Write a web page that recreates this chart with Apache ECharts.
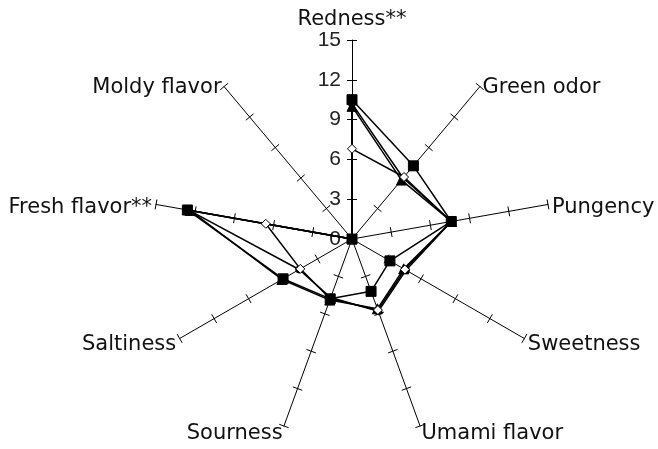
<!DOCTYPE html>
<html>
<head>
<meta charset="utf-8">
<script src="https://cdn.jsdelivr.net/npm/echarts@6/dist/echarts.min.js"></script>
<style>
  html, body { margin: 0; padding: 0; background: #fff; }
  #chart { width: 658px; height: 449px; }
</style>
</head>
<body>
<div id="chart"></div>
<script>
// Sensory attributes, listed clockwise from the top spoke
const attributes = ['Redness**', 'Green odor', 'Pungency', 'Sweetness', 'Umami flavor',
                    'Sourness', 'Saltiness', 'Fresh flavor**', 'Moldy flavor'];
const scaleTicks = [0, 3, 6, 9, 12, 15];

// Mean intensity scores per sample (same attribute order)
const sampleSquare   = [10.5, 7.2, 7.6, 3.3, 4.2, 4.8, 6.0, 12.6, 0];
const sampleTriangle = [10.0, 5.8, 7.6, 4.5, 5.6, 4.9, 6.1, 12.4, 0];
const sampleCircle   = [10.2, 6.0, 7.6, 4.7, 5.8, 4.7, 4.6, 12.5, 0];
const sampleDiamond  = [6.8, 6.1, 7.6, 4.6, 5.7, 4.8, 4.5, 6.6, 0];

// ECharts lays radar spokes out counter-clockwise, so reverse after the first one
const order = [0].concat(attributes.map((_, i) => i).slice(1).reverse());
const reorder = arr => order.map(i => arr[i]);

const scaleMin = scaleTicks[0];
const scaleMax = scaleTicks[scaleTicks.length - 1];

const indicators = order.map((i, k) => {
  const ind = { name: attributes[i], min: scaleMin, max: scaleMax };
  if (k === 0) ind.axisLabel = { show: true };
  return ind;
});
const bareIndicators = order.map(() => ({ name: '', min: scaleMin, max: scaleMax }));

const center = [352, 239];
const radius = 199;
const ink = '#000';

const chart = echarts.init(document.getElementById('chart'), null, { renderer: 'canvas' });

const lineOf = (data, symbol, size, fill) => ({
  value: reorder(data),
  symbol: symbol,
  symbolSize: size,
  lineStyle: { color: ink, width: 1.5 },
  itemStyle: { color: fill, borderColor: ink, borderWidth: 1 }
});

chart.setOption({
  backgroundColor: '#fff',
  animation: false,
  radar: [
    {
      center: center,
      radius: radius,
      startAngle: 90,
      splitNumber: scaleTicks.length - 1,
      shape: 'polygon',
      indicator: indicators,
      axisName: {
        color: '#111',
        fontFamily: 'DejaVu Sans',
        fontSize: 21,
        // top name sits on the spoke end, side names drop a little
        formatter: (name) => name === attributes[0] ? '{top|' + name + '}' : '{side|' + name + '}',
        rich: {
          top: { fontFamily: 'DejaVu Sans', fontSize: 21, color: '#111', lineHeight: 19 },
          side: { fontFamily: 'DejaVu Sans', fontSize: 21, color: '#111', padding: [8, 0, 0, 0] }
        }
      },
      nameGap: 4,
      axisLine: { show: true, lineStyle: { color: ink, width: 1 } },
      axisTick: { show: true, length: 5, lineStyle: { color: ink, width: 1 } },
      axisLabel: {
        show: false,
        color: '#222',
        fontFamily: 'Liberation Sans',
        fontSize: 21,
        margin: 11,
        formatter: v => String(v)
      },
      splitLine: { show: false },
      splitArea: { show: false }
    },
    {
      // second copy of the spokes carries the ticks on the opposite side
      center: center,
      radius: radius,
      startAngle: 90,
      splitNumber: scaleTicks.length - 1,
      shape: 'polygon',
      indicator: bareIndicators,
      axisName: { show: false },
      axisLine: { show: false },
      axisTick: { show: true, length: -5, lineStyle: { color: ink, width: 1 } },
      axisLabel: { show: false },
      splitLine: { show: false },
      splitArea: { show: false }
    }
  ],
  series: [{
    type: 'radar',
    radarIndex: 0,
    silent: true,
    data: [
      lineOf(sampleCircle, 'circle', 7, ink),
      lineOf(sampleTriangle, 'triangle', 10, ink),
      lineOf(sampleDiamond, 'diamond', 9, '#fff'),
      lineOf(sampleSquare, 'rect', 10, ink)
    ]
  }]
});
</script>
</body>
</html>
